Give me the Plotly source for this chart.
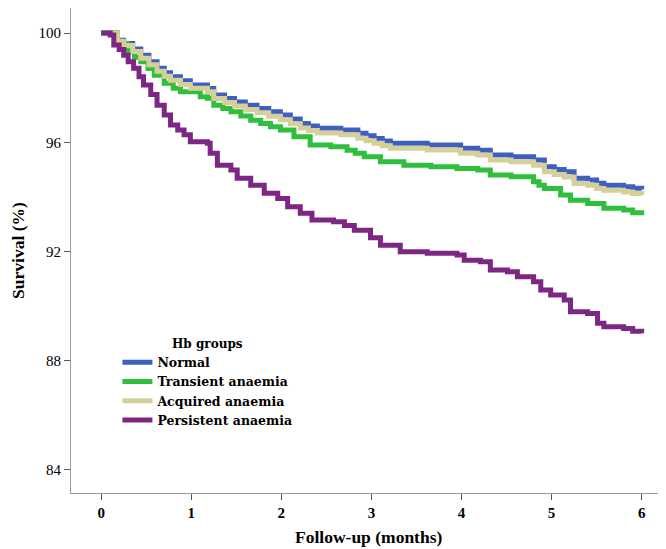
import plotly.graph_objects as go

# Kaplan-Meier style survival estimates (%)
normal_t = [0, 0.1, 0.18, 0.25, 0.35, 0.44, 0.53, 0.62, 0.70, 0.77, 0.88, 0.99, 1.18, 1.25, 1.37, 1.48,
            1.60, 1.73, 1.86, 1.99, 2.10, 2.21, 2.30, 2.40, 2.66, 2.85, 2.94, 3.03, 3.12, 3.21, 3.62,
            3.99, 4.18, 4.32, 4.55, 4.80, 4.92, 5.03, 5.14, 5.25, 5.40, 5.50, 5.58, 5.80, 5.90, 6.0]
normal_v = [100, 100, 99.74, 99.62, 99.42, 99.19, 98.95, 98.71, 98.55, 98.40, 98.25, 98.10, 97.97, 97.73,
            97.60, 97.48, 97.36, 97.24, 97.12, 97.00, 96.85, 96.69, 96.60, 96.51, 96.45, 96.33, 96.24,
            96.14, 96.05, 95.96, 95.90, 95.78, 95.71, 95.53, 95.47, 95.35, 95.10, 95.00, 94.92, 94.68,
            94.62, 94.50, 94.43, 94.37, 94.32, 94.27]

acquired_t = [0, 0.1, 0.18, 0.25, 0.35, 0.44, 0.53, 0.62, 0.70, 0.77, 0.88, 0.99, 1.18, 1.25, 1.37, 1.48,
              1.60, 1.73, 1.86, 1.99, 2.10, 2.21, 2.30, 2.40, 2.66, 2.85, 2.94, 3.03, 3.12, 3.21, 3.62,
              3.99, 4.18, 4.32, 4.55, 4.80, 4.92, 5.03, 5.14, 5.25, 5.40, 5.50, 5.58, 5.80, 5.90, 6.0]
acquired_v = [100, 100, 99.70, 99.55, 99.33, 99.08, 98.84, 98.60, 98.42, 98.27, 98.12, 97.98, 97.85, 97.60,
              97.46, 97.33, 97.20, 97.08, 96.95, 96.83, 96.68, 96.52, 96.43, 96.34, 96.28, 96.15, 96.06,
              95.96, 95.87, 95.78, 95.72, 95.60, 95.53, 95.35, 95.29, 95.16, 94.92, 94.82, 94.73, 94.49,
              94.43, 94.31, 94.24, 94.18, 94.12, 94.07]

transient_t = [0, 0.1, 0.18, 0.29, 0.37, 0.44, 0.52, 0.59, 0.70, 0.80, 0.88, 1.10, 1.18, 1.25, 1.35, 1.44,
               1.55, 1.66, 1.77, 1.88, 1.99, 2.14, 2.32, 2.55, 2.73, 2.82, 2.92, 3.10, 3.36, 3.66, 3.95,
               4.18, 4.32, 4.55, 4.80, 4.86, 4.92, 5.10, 5.21, 5.40, 5.58, 5.80, 5.90, 6.0]
transient_v = [100, 100, 99.62, 99.32, 99.12, 98.95, 98.70, 98.46, 98.16, 97.98, 97.85, 97.67, 97.61, 97.36,
               97.24, 97.12, 96.96, 96.81, 96.69, 96.57, 96.45, 96.20, 95.90, 95.84, 95.71, 95.60, 95.47,
               95.29, 95.16, 95.10, 95.04, 94.98, 94.80, 94.74, 94.55, 94.43, 94.31, 94.07, 93.88, 93.76,
               93.58, 93.52, 93.42, 93.33]

persistent_t = [0, 0.07, 0.1, 0.14, 0.2, 0.25, 0.3, 0.36, 0.42, 0.47, 0.55, 0.62, 0.7, 0.77, 0.85, 0.92,
                0.99, 1.18, 1.21, 1.29, 1.44, 1.51, 1.66, 1.81, 1.96, 2.07, 2.21, 2.34, 2.58, 2.70, 2.81,
                2.99, 3.1, 3.32, 3.62, 3.95, 4.03, 4.21, 4.32, 4.51, 4.62, 4.80, 4.88, 4.99, 5.14, 5.21,
                5.40, 5.51, 5.58, 5.80, 5.90, 6.0]
persistent_v = [100, 100, 99.93, 99.56, 99.40, 99.19, 98.95, 98.71, 98.40, 98.10, 97.75, 97.36, 97.00,
                96.63, 96.45, 96.28, 96.02, 95.96, 95.60, 95.16, 94.98, 94.68, 94.43, 94.13, 93.94, 93.64,
                93.40, 93.15, 93.09, 92.95, 92.78, 92.50, 92.23, 91.99, 91.93, 91.87, 91.68, 91.62, 91.32,
                91.26, 91.07, 90.89, 90.59, 90.40, 90.22, 89.79, 89.73, 89.37, 89.24, 89.18, 89.08, 89.00]

series = [
    ("Normal", normal_t, normal_v, "#3f5fbf"),
    ("Transient anaemia", transient_t, transient_v, "#2fbf3c"),
    ("Acquired anaemia", acquired_t, acquired_v, "#d5cf9a"),
    ("Persistent anaemia", persistent_t, persistent_v, "#7d2683"),
]

x_ticks = [0, 1, 2, 3, 4, 5, 6]
y_ticks = [84, 88, 92, 96, 100]
x_title = "Follow-up (months)"
y_title = "Survival (%)"

FONT = "Liberation Serif"
LFONT = "DejaVu Serif"

fig = go.Figure()
for name, t, v, col in series:
    fig.add_trace(go.Scatter(x=t, y=v, mode="lines", name=name,
                             line=dict(color=col, width=5, shape="hv")))

# the page body adds an 8px offset, so the figure is 8px smaller on each axis
fig.update_layout(
    width=658, height=541,
    margin=dict(l=63, r=0, t=0, b=56),
    paper_bgcolor="white", plot_bgcolor="white",
    font=dict(family=FONT, color="black"),
    showlegend=True,
    legend=dict(
        x=0.078, y=0.332, xanchor="left", yanchor="top",
        bgcolor="rgba(0,0,0,0)",
        font=dict(family=LFONT, size=12.5, color="black", weight="bold"),
        title=dict(text="Hb groups", side="top center",
                   font=dict(family=LFONT, size=12, color="black", weight="bold")),
        tracegroupgap=0, itemwidth=30,
    ),
    xaxis=dict(
        range=[-0.335, 6.27], tickvals=x_ticks, ticktext=[str(v) for v in x_ticks],
        automargin=False,
        showgrid=False, zeroline=False, showline=True, linecolor="#9a9a9a", linewidth=1.2,
        ticks="outside", ticklen=6, tickcolor="#555555", tickwidth=1,
        tickfont=dict(family=FONT, size=15, color="black", weight="bold"),
    ),
    yaxis=dict(
        range=[83.15, 100.92], tickvals=y_ticks, ticktext=[str(v) for v in y_ticks],
        automargin=False,
        showgrid=False, zeroline=False, showline=True, linecolor="#9a9a9a", linewidth=1.2,
        ticks="outside", ticklen=6, tickcolor="#555555", tickwidth=1,
        tickfont=dict(family=FONT, size=15, color="black"),
    ),
    annotations=[
        dict(text=x_title, xref="paper", yref="paper", x=0.5, y=-0.09,
             xanchor="center", yanchor="middle", showarrow=False,
             font=dict(family=FONT, size=17.5, color="black", weight="bold")),
        dict(text=y_title, xref="paper", yref="paper", x=-0.09, y=0.5,
             xanchor="center", yanchor="middle", showarrow=False, textangle=-90,
             font=dict(family=FONT, size=17.5, color="black", weight="bold")),
    ],
)

fig.write_html("out.html")
